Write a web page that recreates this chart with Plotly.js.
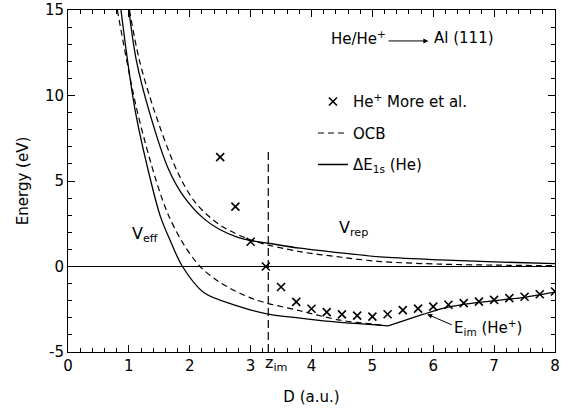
<!DOCTYPE html>
<html>
<head>
<meta charset="utf-8">
<script src="https://cdn.plot.ly/plotly-3.0.1.min.js"></script>
<style>html,body{margin:0;padding:0;background:#fff;}#chart{width:570px;height:411px;}</style>
</head>
<body>
<div id="chart"></div>
<script>
// He+ data of More et al. (crosses)
const moreD = [2.5, 2.75, 3.0, 3.25, 3.5, 3.75, 4.0, 4.25, 4.5, 4.75, 5.0, 5.25, 5.5, 5.75, 6.0, 6.25, 6.5, 6.75, 7.0, 7.25, 7.5, 7.75, 8.0];
const moreE = [6.4, 3.5, 1.45, 0.0, -1.2, -2.07, -2.47, -2.67, -2.8, -2.87, -2.93, -2.79, -2.55, -2.46, -2.35, -2.24, -2.14, -2.05, -1.95, -1.85, -1.77, -1.62, -1.46];

// Delta E_1s (He): V_eff branch (solid, lower), kink at D = 5.26
const effD = [0.87, 1.10, 1.36, 1.52, 1.70, 1.88, 2.23, 2.78, 3.29, 3.81, 4.47, 5.0, 5.26, 5.84, 6.11, 6.5, 7.0, 7.5, 8.0];
const effE = [15, 9.19, 5.0, 2.9, 1.35, 0, -1.52, -2.30, -2.79, -3.02, -3.27, -3.40, -3.47, -2.79, -2.49, -2.22, -2.0, -1.8, -1.5];
const effKink = 12;

// Delta E_1s (He): V_rep branch (solid, upper)
const repD = [1.00, 1.12, 1.34, 1.65, 1.90, 2.23, 2.50, 2.78, 3.00, 3.29, 3.81, 4.47, 5.13, 6.11, 7.0, 8.0];
const repE = [15, 12.1, 9.0, 5.7, 4.1, 2.8, 2.15, 1.72, 1.52, 1.36, 1.07, 0.80, 0.56, 0.39, 0.27, 0.17];

// OCB: V_eff branch (dashed, lower)
const ocbEffD = [0.81, 1.13, 1.45, 1.65, 1.90, 2.17, 2.50, 3.05, 3.81, 4.47, 5.02, 5.22];
const ocbEffE = [15, 9.19, 5.0, 3.0, 1.3, 0, -0.94, -1.91, -2.59, -3.14, -3.37, -3.46];

// OCB: V_rep branch (dashed, upper)
const ocbRepD = [1.01, 1.17, 1.41, 1.79, 2.09, 2.50, 3.05, 3.81, 4.50, 5.13, 6.11, 7.0, 8.0];
const ocbRepE = [15, 12.1, 9.19, 5.6, 3.75, 2.42, 1.50, 0.87, 0.54, 0.29, 0.14, 0.08, 0.05];

// image-plane position z_im
const zimD = [3.29, 3.29];
const zimE = [-5, 6.8];

const xTicks = [0, 1, 2, 3, 4, 5, 6, 7, 8];
const yTickVals = [-5, 0, 5, 10, 15];
const yTickText = ['-5', '0', '5', '10', '15'];

const FONT = 'DejaVu Sans, Liberation Sans, Arial, sans-serif';
const dashStyle = '6px,4px';
const SM = 0.9;

const traces = [
  {x: moreD, y: moreE, mode: 'markers', type: 'scatter', name: 'He<sup>+</sup> More et al.',
   legendgroup: 'a', marker: {symbol: 'x-thin', size: 8, color: 'black', line: {color: 'black', width: 1.6}}},
  {x: ocbEffD, y: ocbEffE, mode: 'lines', type: 'scatter', name: 'OCB', legendgroup: 'b',
   line: {color: 'black', width: 1.2, dash: dashStyle, shape: 'spline', smoothing: SM}},
  {x: ocbRepD, y: ocbRepE, mode: 'lines', type: 'scatter', showlegend: false, legendgroup: 'b',
   line: {color: 'black', width: 1.2, dash: dashStyle, shape: 'spline', smoothing: SM}},
  {x: effD.slice(0, effKink + 1), y: effE.slice(0, effKink + 1), mode: 'lines', type: 'scatter',
   name: 'ΔE<sub>1s</sub> (He)', legendgroup: 'c',
   line: {color: 'black', width: 1.3, shape: 'spline', smoothing: SM}},
  {x: effD.slice(effKink), y: effE.slice(effKink), mode: 'lines', type: 'scatter', showlegend: false, legendgroup: 'c',
   line: {color: 'black', width: 1.3, shape: 'spline', smoothing: 0.5}},
  {x: repD, y: repE, mode: 'lines', type: 'scatter', showlegend: false, legendgroup: 'c',
   line: {color: 'black', width: 1.3, shape: 'spline', smoothing: SM}},
  {x: zimD, y: zimE, mode: 'lines', type: 'scatter', showlegend: false,
   line: {color: 'black', width: 1.2, dash: '8px,4px'}}
];

const layout = {
  width: 570, height: 411,
  margin: {l: 68, r: 15, t: 10, b: 59, pad: 0},
  paper_bgcolor: 'white', plot_bgcolor: 'white',
  font: {family: FONT, size: 15, color: 'black'},
  showlegend: true,
  legend: {x: 0.503, xanchor: 'left', y: 0.78, yanchor: 'top', bgcolor: 'rgba(0,0,0,0)',
           font: {family: FONT, size: 15, color: 'black'}, tracegroupgap: 9, itemwidth: 30},
  xaxis: {range: [0, 8], tickmode: 'array', tickvals: xTicks, ticks: 'inside', ticklen: 7, tickwidth: 1,
          tickcolor: 'black', showline: true, linecolor: 'black', linewidth: 1, mirror: 'allticks',
          showgrid: false, zeroline: false,
          minor: {tickmode: 'linear', tick0: 0, dtick: 0.2, ticks: 'inside', ticklen: 4, tickcolor: 'black', showgrid: false},
          tickfont: {family: FONT, size: 15},
          title: {text: 'D (a.u.)', font: {family: FONT, size: 15}, standoff: 17}},
  yaxis: {range: [-5, 15], tickmode: 'array', tickvals: yTickVals, ticktext: yTickText, ticks: 'inside', ticklen: 7,
          tickwidth: 1, tickcolor: 'black', showline: true, linecolor: 'black', linewidth: 1, mirror: 'allticks',
          showgrid: false, zeroline: true, zerolinecolor: 'black', zerolinewidth: 1,
          minor: {tickmode: 'linear', tick0: 0, dtick: 1, ticks: 'inside', ticklen: 4, tickcolor: 'black', showgrid: false},
          tickfont: {family: FONT, size: 15},
          title: {text: 'Energy (eV)', font: {family: FONT, size: 15}, standoff: 12}},
  annotations: [
    {x: 4.29, y: 13.39, xref: 'x', yref: 'y', xanchor: 'left', yanchor: 'middle', showarrow: false,
     text: 'He/He<sup>+</sup>', font: {family: FONT, size: 15}},
    {x: 5.92, y: 13.19, ax: 5.24, ay: 13.19, xref: 'x', yref: 'y', axref: 'x', ayref: 'y', text: '',
     showarrow: true, arrowhead: 2, arrowsize: 1, arrowwidth: 1, arrowcolor: 'black'},
    {x: 5.98, y: 13.39, xref: 'x', yref: 'y', xanchor: 'left', yanchor: 'middle', showarrow: false,
     text: 'Al (111)', font: {family: FONT, size: 15}},
    {x: 1.02, y: 1.9, xref: 'x', yref: 'y', xanchor: 'left', yanchor: 'middle', showarrow: false,
     text: 'V<sub>eff</sub>', font: {family: FONT, size: 16}},
    {x: 4.42, y: 2.25, xref: 'x', yref: 'y', xanchor: 'left', yanchor: 'middle', showarrow: false,
     text: 'V<sub>rep</sub>', font: {family: FONT, size: 16}},
    {x: 3.21, y: -0.035, xref: 'x', yref: 'paper', xanchor: 'left', yanchor: 'middle', showarrow: false,
     text: 'z<sub>im</sub>', font: {family: FONT, size: 16}},
    {x: 6.31, y: -3.55, xref: 'x', yref: 'y', xanchor: 'left', yanchor: 'middle', showarrow: false,
     text: 'E<sub>im</sub> (He<sup>+</sup>)', font: {family: FONT, size: 15}},
    {x: 5.90, y: -2.79, ax: 6.33, ay: -3.45, xref: 'x', yref: 'y', axref: 'x', ayref: 'y', text: '',
     showarrow: true, arrowhead: 2, arrowsize: 1, arrowwidth: 1, arrowcolor: 'black'}
  ]
};

Plotly.newPlot('chart', traces, layout, {displayModeBar: false, staticPlot: true});
</script>
</body>
</html>
